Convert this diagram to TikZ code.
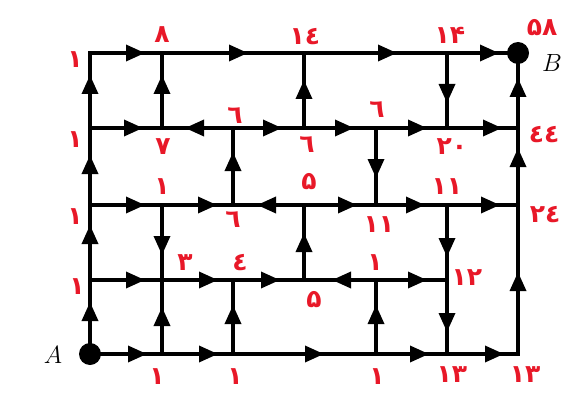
\documentclass[tikz,border=0pt]{standalone}
\usepackage{fontspec}
\newfontfamily\fadig{DejaVu Sans}
\usetikzlibrary{arrows.meta,decorations.markings}
\definecolor{lab}{RGB}{232,24,40}
\begin{document}
\begin{tikzpicture}[x=1pt,y=-1pt,
  edge/.style={line width=3.4pt,line cap=rect},
  ar/.style={postaction={decorate,decoration={markings,mark=at position #1pt with {\arrow{Triangle[length=19pt,width=16pt]}}}}},
  num/.style={text=lab,font=\fadig\bfseries\fontsize{25}{26}\selectfont,inner sep=0pt},
  ab/.style={font=\fontsize{32}{34}\selectfont,inner sep=0pt},
  dot/.style={circle,fill=black,minimum size=22pt,inner sep=0pt},
]
\useasboundingbox (0,0) rectangle (564,393);
% grid points
\foreach \c/\x in {0/90,1/162,2/233,3/304,4/376,5/447,6/518}{
  \foreach \r/\y in {0/354,1/280,2/205,3/128,4/53}{
    \coordinate (n\c\r) at (\x,\y);
  }
}
% row 4 (top)
\draw[edge,ar=55] (n04) -- (n14);
\draw[edge,ar=86] (n14) -- (n34);
\draw[edge,ar=93] (n34) -- (n54);
\draw[edge,ar=52] (n54) -- (n64);
% row 3
\draw[edge,ar=53] (n03) -- (n13);
\draw[edge,ar=48] (n23) -- (n13);
\draw[edge,ar=49] (n23) -- (n33);
\draw[edge,ar=50] (n33) -- (n43);
\draw[edge,ar=51] (n43) -- (n53);
\draw[edge,ar=55] (n53) -- (n63);
% row 2
\draw[edge,ar=55] (n02) -- (n12);
\draw[edge,ar=55] (n12) -- (n22);
\draw[edge,ar=47] (n32) -- (n22);
\draw[edge,ar=53] (n32) -- (n42);
\draw[edge,ar=49] (n42) -- (n52);
\draw[edge,ar=53] (n52) -- (n62);
% row 1
\draw[edge,ar=55] (n01) -- (n11);
\draw[edge,ar=56] (n11) -- (n21);
\draw[edge,ar=47] (n21) -- (n31);
\draw[edge,ar=44] (n41) -- (n31);
\draw[edge,ar=51] (n41) -- (n51);
% row 0
\draw[edge,ar=57] (n00) -- (n10);
\draw[edge,ar=56] (n10) -- (n20);
\draw[edge,ar=91] (n20) -- (n40);
\draw[edge,ar=53] (n40) -- (n50);
\draw[edge,ar=57] (n50) -- (n60);
% column 0
\draw[edge,ar=52] (n00) -- (n01);
\draw[edge,ar=55] (n01) -- (n02);
\draw[edge,ar=50] (n02) -- (n03);
\draw[edge,ar=53] (n03) -- (n04);
% column 1
\draw[edge,ar=53] (n13) -- (n14);
\draw[edge,ar=50] (n12) -- (n11);
\draw[edge,ar=47] (n10) -- (n11);
% column 2
\draw[edge,ar=53] (n22) -- (n23);
\draw[edge,ar=49] (n20) -- (n21);
% column 3
\draw[edge,ar=48] (n33) -- (n34);
\draw[edge,ar=47] (n31) -- (n32);
% column 4
\draw[edge,ar=50] (n43) -- (n42);
\draw[edge,ar=49] (n40) -- (n41);
% column 5
\draw[edge,ar=50] (n54) -- (n53);
\draw[edge,ar=52] (n52) -- (n51);
\draw[edge,ar=52] (n51) -- (n50);
% column 6
\draw[edge,ar=82] (n60) -- (n62);
\draw[edge,ar=57] (n62) -- (n63);
\draw[edge,ar=50] (n63) -- (n64);
% end points
\node[dot] (A) at (n00) {};
\node[dot] (B) at (n64) {};
\node[ab] (lA) at (53,355) {$A$};
\node[ab] (lB) at (552,63) {$B$};
% labels
\node[num] (l1) at (75,60) {١};
\node[num] (l2) at (75,140) {١};
\node[num] (l3) at (75,217) {١};
\node[num] (l4) at (77,287) {١};
\node[num] (l5) at (162,35) {٨};
\node[num] (l6) at (163,147) {٧};
\node[num] (l7) at (235,116) {٦};
\node[num] (l8) at (162,187) {١};
\node[num] (l9) at (305,37) {١٤};
\node[num] (l10) at (450,35) {١۴};
\node[num] (l11) at (542,28) {۵٨};
\node[num] (l12) at (377,110) {٦};
\node[num] (l13) at (307,145) {٦};
\node[num] (l14) at (452,147) {٢٠};
\node[num] (l15) at (544,135) {٤٤};
\node[num] (l16) at (309,182) {۵};
\node[num] (l17) at (447,187) {١١};
\node[num] (l18) at (233,220) {٦};
\node[num] (l19) at (185,263) {٣};
\node[num] (l20) at (240,263) {٤};
\node[num] (l21) at (157,377) {١};
\node[num] (l22) at (235,377) {١};
\node[num] (l23) at (545,215) {٢٤};
\node[num] (l24) at (379,225) {١١};
\node[num] (l25) at (375,263) {١};
\node[num] (l26) at (467,278) {١٢};
\node[num] (l27) at (314,300) {۵};
\node[num] (l28) at (377,377) {١};
\node[num] (l29) at (452,375) {١٣};
\node[num] (l30) at (525,375) {١٣};
\end{tikzpicture}
\end{document}
